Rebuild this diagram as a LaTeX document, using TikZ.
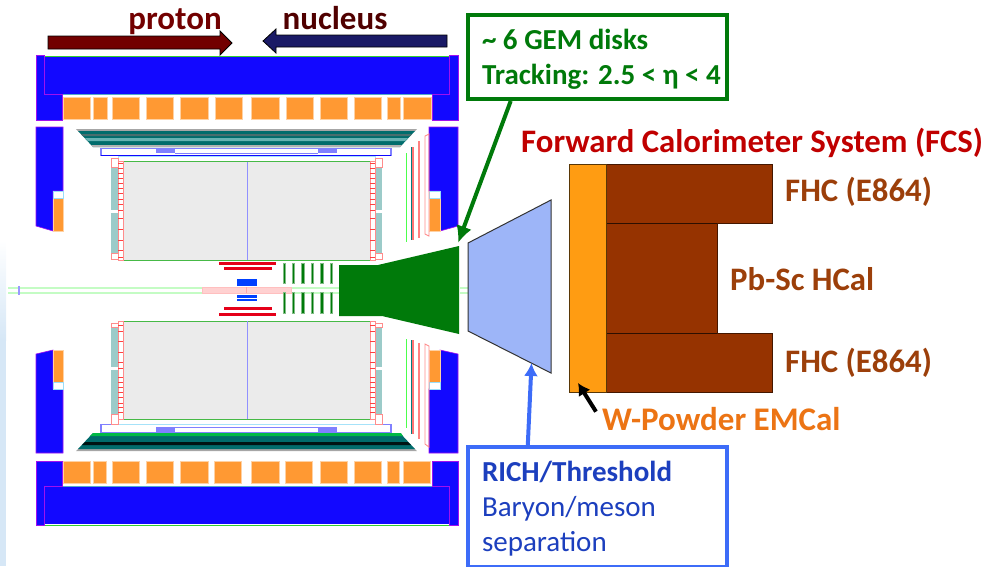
\documentclass[tikz,border=0pt]{standalone}
\usepackage{xcolor}
\usepackage{fontspec}
\setmainfont{Carlito}
\usetikzlibrary{calc,arrows.meta}
\definecolor{yokeblue}{HTML}{1208FF}
\definecolor{yokeedge}{HTML}{A010F0}
\definecolor{blockorange}{HTML}{FF9933}
\definecolor{padteal}{HTML}{9CCBC9}
\definecolor{tpcgray}{HTML}{EBEBEB}
\definecolor{gemgreen}{HTML}{007A0A}
\definecolor{richblue}{HTML}{9DB5F8}
\definecolor{boxblue}{HTML}{3D6CF8}
\definecolor{textblue}{HTML}{1C3FBE}
\definecolor{fcsbrown}{HTML}{963300}
\definecolor{fcsorange}{HTML}{FF9C12}
\definecolor{fcsred}{HTML}{C00000}
\definecolor{labelbrown}{HTML}{9C3F0A}
\definecolor{labelorange}{HTML}{EC7414}
\definecolor{protonred}{HTML}{720000}
\definecolor{nucleusblue}{HTML}{1A1A66}
\definecolor{palesky}{HTML}{D6E7F6}
\definecolor{beamgreen}{HTML}{C4FCC4}
\definecolor{axisblue}{HTML}{9090FF}
\tikzset{
  yoke/.style={fill=yokeblue,draw=yokeedge,line width=0.6pt},
  orangeblock/.style={fill=blockorange,draw=blockorange!45,line width=0.8pt},
  pinkline/.style={draw=red!45,line width=0.9pt},
  stave/.style={fill=gemgreen,draw=gemgreen!50,line width=0.5pt},
  redbar/.style={fill=red!90!blue},
  framebox/.style={draw=blue!50,fill=white,line width=1.3pt},
  beamline/.style={draw=beamgreen,line width=2pt},
  fcslabel/.style={font=\bfseries\fontsize{32.8}{35}\selectfont,text=labelbrown,inner sep=0pt},
  beamlabel/.style={font=\bfseries\fontsize{33}{35}\selectfont,inner sep=0pt},
  calloutbox/.style={line width=4pt,fill=white,align=flush left,inner sep=0pt,text width=231pt,minimum width=259pt},
  calloutarrow/.style={line width=4pt}
}
\begin{document}
\begin{tikzpicture}[x=1pt,y=-1pt]
	\useasboundingbox (0,0) rectangle (986,566);
	\fill[top color=white,bottom color=palesky] (0,240) rectangle (6,340);
	\fill[palesky] (0,340) rectangle (6,566);

	% return yoke
	\fill[yokeblue] (44,56) rectangle (449,94);
	\fill[yokeblue] (44,486) rectangle (449,524);
	\draw[green!60!gray,line width=0.8pt] (44,56) -- (449,56);
	\draw[green!60!gray,line width=0.8pt] (44,525) -- (449,525);
	\draw[cyan!60!gray,line width=0.8pt] (62,94.5) -- (432,94.5);
	\draw[cyan!60!gray,line width=0.8pt] (62,486) -- (432,486);
	\filldraw[yoke] (36,55) -- (44,55) -- (44,94) -- (62,94) -- (62,120) -- (36,120) -- cycle;
	\filldraw[yoke] (449,55) -- (458,55) -- (458,120) -- (432,120) -- (432,94) -- (449,94) -- cycle;
	\filldraw[yoke] (36,461) -- (62,461) -- (62,486) -- (44,486) -- (44,525) -- (36,525) -- cycle;
	\filldraw[yoke] (432,461) -- (458,461) -- (458,525) -- (449,525) -- (449,486) -- (432,486) -- cycle;
	\filldraw[yoke] (36,127) -- (63,127) -- (63,191) -- (53,191) -- (53,231) -- (36,226) -- cycle;
	\filldraw[yoke] (429,127) -- (458,127) -- (458,226) -- (440,231) -- (440,191) -- (429,191) -- cycle;
	\filldraw[yoke] (36,354) -- (53,350) -- (53,389) -- (63,389) -- (63,453) -- (36,453) -- cycle;
	\filldraw[yoke] (440,350) -- (458,354) -- (458,453) -- (429,453) -- (429,389) -- (440,389) -- cycle;

	% inserts in the yoke
	\filldraw[orangeblock] (53,198) rectangle (63,231);
	\filldraw[orangeblock] (429,198) rectangle (440,231);
	\filldraw[orangeblock] (53,350) rectangle (63,382);
	\filldraw[orangeblock] (429,350) rectangle (440,382);
	\draw[cyan!40,fill=white] (53,191) rectangle (63,198);
	\draw[cyan!40,fill=white] (429,191) rectangle (440,198);
	\draw[cyan!40,fill=white] (53,382) rectangle (63,389);
	\draw[cyan!40,fill=white] (429,382) rectangle (440,389);

	% orange blocks, upper row
	\filldraw[orangeblock] (63,97) rectangle (90,119);
	\filldraw[orangeblock] (93,97) rectangle (107,119);
	\filldraw[orangeblock] (112,97) rectangle (139,119);
	\filldraw[orangeblock] (146,97) rectangle (173,119);
	\filldraw[orangeblock] (180,97) rectangle (208,119);
	\filldraw[orangeblock] (215,97) rectangle (242,119);
	\filldraw[orangeblock] (251,97) rectangle (279,119);
	\filldraw[orangeblock] (286,97) rectangle (313,119);
	\filldraw[orangeblock] (320,97) rectangle (347,119);
	\filldraw[orangeblock] (354,97) rectangle (381,119);
	\filldraw[orangeblock] (387,97) rectangle (400,119);
	\filldraw[orangeblock] (403,97) rectangle (431,119);
	% orange blocks, lower row
	\filldraw[orangeblock] (63,461) rectangle (90,483);
	\filldraw[orangeblock] (93,461) rectangle (106,483);
	\filldraw[orangeblock] (112,461) rectangle (139,483);
	\filldraw[orangeblock] (146,461) rectangle (173,483);
	\filldraw[orangeblock] (180,461) rectangle (208,483);
	\filldraw[orangeblock] (214,461) rectangle (241,483);
	\filldraw[orangeblock] (251,461) rectangle (279,483);
	\filldraw[orangeblock] (285,461) rectangle (312,483);
	\filldraw[orangeblock] (320,461) rectangle (347,483);
	\filldraw[orangeblock] (354,461) rectangle (381,483);
	\filldraw[orangeblock] (387,461) rectangle (399,483);
	\filldraw[orangeblock] (403,461) rectangle (430,483);

	% barrel layers
	\fill[gray!70] (76,129) -- (417,129) -- (415,131) -- (78,131) -- cycle;
	\fill[teal!85!black] (78,131) -- (415,131) -- (400,147) -- (93,147) -- cycle;
	\fill[cyan!60!green!45!black] (81,134) -- (412,134) -- (410,136) -- (83,136) -- cycle;
	\fill[teal!60] (85,138) -- (408,138) -- (405,141) -- (88,141) -- cycle;
	\fill[gray!60] (91,145) -- (402,145) -- (400,147) -- (93,147) -- cycle;
	\fill[gray!70] (76,451) -- (417,451) -- (415,449) -- (78,449) -- cycle;
	\fill[teal!85!black] (78,449) -- (415,449) -- (400,433) -- (93,433) -- cycle;
	\fill[black!85!teal] (82,445) -- (411,445) -- (408,442) -- (85,442) -- cycle;
	\fill[teal!55!green] (90,436) -- (403,436) -- (401,433) -- (93,433) -- cycle;

	% frames round the barrel
	\filldraw[framebox] (101,148.5) rectangle (391,155.5);
	\draw[yokeblue,line width=1.6pt] (101,155.5) -- (391,155.5);
	\fill[blue!50] (156,149) rectangle (175,153);
	\fill[blue!50] (318,149) rectangle (337,153);
	\draw[blue!50,line width=1pt] (175,153) -- (318,153);
	\filldraw[framebox] (101,424.5) rectangle (391,432.5);
	\fill[blue!50] (156,427) rectangle (175,432);
	\fill[blue!50] (318,427) rectangle (337,432);
	\draw[blue!50,line width=1pt] (175,427) -- (318,427);
	\draw[cyan!35,fill=white] (118,419) rectangle (375,424);
	\draw[cyan!35,fill=white] (118,156) rectangle (375,161);

	% gray volume
	\filldraw[fill=tpcgray,draw=green!45!gray,line width=0.7pt] (123,161.5) rectangle (370,260);
	\filldraw[fill=tpcgray,draw=green!45!gray,line width=0.7pt] (123,321) rectangle (370,419);
	\draw[axisblue,line width=1pt] (247,161.5) -- (247,260);
	\draw[axisblue,line width=1pt] (247,321) -- (247,419);

	% end caps
	\fill[padteal] (111,167) rectangle (118,210);
	\fill[padteal] (111,213) rectangle (118,253);
	\fill[padteal] (111,327) rectangle (118,367);
	\fill[padteal] (111,370) rectangle (118,414);
	\fill[padteal] (375,167) rectangle (382,210);
	\fill[padteal] (375,213) rectangle (382,253);
	\fill[padteal] (375,327) rectangle (382,367);
	\fill[padteal] (375,370) rectangle (382,414);
	\draw[pinkline] (111,158) rectangle (118,167);
	\draw[pinkline] (111,253) rectangle (118,259);
	\draw[pinkline] (111,323) rectangle (118,327);
	\draw[pinkline] (111,414) rectangle (118,424);
	\draw[pinkline] (375,158) rectangle (382,167);
	\draw[pinkline] (375,253) rectangle (382,259);
	\draw[pinkline] (375,323) rectangle (382,327);
	\draw[pinkline] (375,414) rectangle (382,424);
	\draw[pinkline] (118,161) rectangle (123,260);
	\draw[pinkline] (118,321) rectangle (123,419);
	\draw[pinkline] (370,161) rectangle (375,260);
	\draw[pinkline] (370,321) rectangle (375,419);
	\draw[red!75,line width=1pt] (118,163) -- (123,163) (118,168) -- (123,168) (118,173) -- (123,173) (118,178) -- (123,178) (118,183) -- (123,183) (118,188) -- (123,188) (118,193) -- (123,193) (118,199) -- (123,199) (118,204) -- (123,204) (118,210) -- (123,210) (118,218) -- (123,218) (118,229) -- (123,229) (118,240) -- (123,240) (118,250) -- (123,250) (118,257) -- (123,257);
	\draw[red!75,line width=1pt] (370,163) -- (375,163) (370,168) -- (375,168) (370,173) -- (375,173) (370,178) -- (375,178) (370,183) -- (375,183) (370,188) -- (375,188) (370,193) -- (375,193) (370,199) -- (375,199) (370,204) -- (375,204) (370,210) -- (375,210) (370,218) -- (375,218) (370,229) -- (375,229) (370,240) -- (375,240) (370,250) -- (375,250) (370,257) -- (375,257);
	\draw[red!75,line width=1pt] (118,325) -- (123,325) (118,331) -- (123,331) (118,341) -- (123,341) (118,352) -- (123,352) (118,362) -- (123,362) (118,368) -- (123,368) (118,377) -- (123,377) (118,382) -- (123,382) (118,387) -- (123,387) (118,392) -- (123,392) (118,397) -- (123,397) (118,403) -- (123,403) (118,407) -- (123,407) (118,412) -- (123,412);
	\draw[red!75,line width=1pt] (370,325) -- (375,325) (370,331) -- (375,331) (370,341) -- (375,341) (370,352) -- (375,352) (370,362) -- (375,362) (370,368) -- (375,368) (370,377) -- (375,377) (370,382) -- (375,382) (370,387) -- (375,387) (370,392) -- (375,392) (370,397) -- (375,397) (370,403) -- (375,403) (370,407) -- (375,407) (370,412) -- (375,412);

	% thin forward layers
	\draw[green!70,line width=1pt] (406,153) -- (406,242);
	\draw[green!70,line width=1pt] (406,339) -- (406,428);
	\draw[teal,line width=1pt] (411,147) -- (411,240);
	\draw[teal,line width=1pt] (411,340) -- (411,434);
	\draw[red!55,line width=1.6pt] (413,147) -- (413,240);
	\draw[red!55,line width=1.6pt] (413,340) -- (413,434);
	\draw[red!50,line width=2pt] (419,141) -- (419,238);
	\draw[red!50,line width=2pt] (419,343) -- (419,439);
	\draw[pinkline] (425,136) -- (429,134) -- (429,236) -- (425,234) -- cycle;
	\draw[pinkline] (425,344) -- (429,346) -- (429,447) -- (425,444) -- cycle;

	% beam line
	\draw[beamline] (8,287.5) -- (202,287.5);
	\draw[beamline] (8,292.5) -- (202,292.5);
	\draw[beamline] (291,287.5) -- (340,287.5);
	\draw[beamline] (291,292.5) -- (340,292.5);
	\draw[beamline] (460,287.5) -- (475,287.5);
	\draw[beamline] (460,292.5) -- (475,292.5);
	\draw[blue!40,line width=1.5pt] (19,286) -- (19,295);
	\draw[blue!40,line width=1.5pt] (473,286) -- (473,295);
	\filldraw[draw=red!25,fill=red!18,line width=1pt] (202,287) rectangle (291,293);
	\draw[red!35,line width=1pt] (246,287) -- (246,293);

	% central bars
	\fill[redbar] (219,262) rectangle (276,265);
	\fill[redbar] (224,267) rectangle (272,270);
	\fill[redbar] (224,307) rectangle (272,310);
	\fill[redbar] (219,313) rectangle (276,316);
	\fill[blue!75!cyan] (237,279) rectangle (257,286);
	\fill[blue!75!cyan] (237,295) rectangle (257,297.5);
	\fill[blue!75!cyan] (237,299) rectangle (257,301);

	% staves
	\filldraw[stave] (283,263) rectangle (285,283);
	\filldraw[stave] (292,263) rectangle (294,283);
	\filldraw[stave] (301,263) rectangle (304,283);
	\filldraw[stave] (311,263) rectangle (313,283);
	\filldraw[stave] (320,263) rectangle (323,283);
	\filldraw[stave] (330,263) rectangle (332,283);
	\filldraw[stave] (283,292) rectangle (285,313);
	\filldraw[stave] (292,292) rectangle (294,313);
	\filldraw[stave] (301,292) rectangle (304,313);
	\filldraw[stave] (311,292) rectangle (313,313);
	\filldraw[stave] (320,292) rectangle (323,313);
	\filldraw[stave] (330,292) rectangle (332,313);

	% GEM cone
	\fill[gemgreen] (339,265) -- (378,265) -- (459,246) -- (459,334) -- (382,316) -- (339,316) -- cycle;
	\coordinate (conetip) at (458,243);

	% RICH
	\filldraw[fill=richblue,draw=black!80,line width=1pt] (468,243) -- (551,200) -- (551,373) -- (468,331) -- cycle;
	\coordinate (richtip) at (531.5,363);

	% calorimeters
	\filldraw[fill=fcsbrown,draw=black!55!fcsbrown,line width=0.8pt] (606,164) -- (772,164) -- (772,223) -- (717,223) -- (717,333) -- (772,333) -- (772,392) -- (606,392) -- cycle;
	\draw[black!70!fcsbrown,line width=0.8pt] (606,223) -- (717,223);
	\draw[black!70!fcsbrown,line width=0.8pt] (606,333) -- (717,333);
	\filldraw[fill=fcsorange,draw=black!65!fcsorange,line width=0.8pt] (569,164) rectangle (606,392);
	\coordinate (emcaltip) at (578,383);

	% beam arrows
	\filldraw[fill=protonred,draw=black,line width=0.8pt] (48,36) -- (220,36) -- (220,31) -- (232,43) -- (220,55) -- (220,49) -- (48,49) -- cycle;
	\filldraw[fill=nucleusblue,draw=black,line width=0.8pt] (447,35) -- (276,35) -- (276,29) -- (263,41) -- (276,53) -- (276,47) -- (447,47) -- cycle;
	\node[beamlabel,text=protonred,anchor=base] (protonlabel) at (175,29) {proton};
	\node[beamlabel,text=protonred!70!black,anchor=base] (nucleuslabel) at (335,29) {nucleus};

	% labels
	\node[font=\bfseries\fontsize{32.8}{35}\selectfont,text=fcsred,anchor=base west,inner sep=0pt] (fcslabel) at (521,152) {Forward Calorimeter System (FCS)};
	\node[fcslabel,anchor=base west] (fhctop) at (785,201.5) {FHC (E864)};
	\node[fcslabel,anchor=base west] (pbsc) at (730,290) {Pb-Sc HCal};
	\node[fcslabel,anchor=base west] (fhcbottom) at (785,372.5) {FHC (E864)};
	\node[font=\bfseries\fontsize{33}{35}\selectfont,text=labelorange,anchor=base west,inner sep=0pt] (emcal) at (602,430) {W-Powder EMCal};
	\draw[black,line width=4pt,-{Latex[length=12pt,width=14pt]}] ($(emcal.north west)+(-6,5)$) -- (emcaltip);

	% call-outs
	\node[calloutbox,draw=gemgreen,text=gemgreen,minimum height=84pt,font=\bfseries\fontsize{29}{35}\selectfont] (gembox) at (597.5,57) {\rule{0pt}{29.5pt}\textasciitilde{} 6 GEM disks\\\strut\mbox{Tracking: 2.5 < η < 4}};
	\node[calloutbox,draw=boxblue,text=textblue,minimum height=120pt,font=\fontsize{29}{35}\selectfont] (richbox) at (597.5,507) {\rule{0pt}{29pt}\textbf{RICH/Threshold}\\\strut Baryon/meson\\\strut separation};
	\draw[calloutarrow,draw=gemgreen,-{Latex[length=17pt,width=16pt]}] ($(gembox.south west)!0.17!(gembox.south east)$) -- (conetip);
	\draw[calloutarrow,draw=boxblue,-{Latex[length=13pt,width=14pt]}] ($(richbox.north west)!0.235!(richbox.north east)$) -- (richtip);
\end{tikzpicture}
\end{document}
